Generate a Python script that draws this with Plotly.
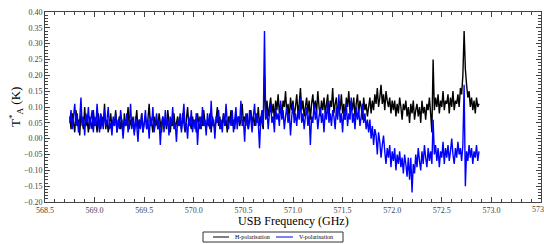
import plotly.graph_objects as go

# Channel grid of the spectrum (GHz)
freq_start = 568.75
freq_step = 0.0125

h_pol = [
    0.07, 0.03, 0.08, 0.05, 0.02, 0.09, 0.04, 0.06, 0.01, 0.08,
    0.05, 0.03, 0.10, 0.04, 0.06, 0.02, 0.07, 0.05, 0.03, 0.09,
    0.04, 0.06, 0.02, 0.08, 0.05, 0.03, 0.07, 0.04, 0.11, 0.03,
    0.06, 0.02, 0.05, 0.08, 0.03, 0.06, 0.04, 0.09, 0.02, 0.05,
    0.07, 0.03, 0.06, 0.01, 0.08, 0.04, 0.05, 0.10, 0.03, 0.06,
    0.04, 0.07, 0.02, 0.05, 0.09, 0.03, 0.06, 0.04, 0.08, 0.02,
    0.05, 0.07, 0.03, 0.06, 0.11, 0.04, 0.05, 0.02, 0.07, 0.04,
    0.06, 0.03, 0.08, 0.05, 0.02, 0.07, 0.04, 0.06, 0.03, 0.09,
    0.05, 0.02, 0.06, 0.04, 0.08, 0.03, 0.05, 0.07, 0.04, 0.06,
    0.03, 0.08, 0.05, 0.02, 0.06, 0.10, 0.04, 0.05, 0.03, 0.07,
    0.04, 0.06, 0.02, 0.08, 0.05, 0.03, 0.07, 0.04, 0.09, 0.05,
    0.03, 0.06, 0.04, 0.08, 0.02, 0.07, 0.05, 0.03, 0.06, 0.10,
    0.04, 0.07, 0.03, 0.05, 0.08, 0.04, 0.06, 0.02, 0.07, 0.05,
    0.09, 0.04, 0.06, 0.03, 0.08, 0.05, 0.07, 0.04, 0.06, 0.11,
    0.05, 0.07, 0.04, 0.08, 0.03, 0.06, 0.09, 0.05, 0.07, 0.04,
    0.08, 0.05, 0.10, 0.04, 0.07, 0.05, 0.03,
    0.20,
    0.08, 0.12, 0.07, 0.10, 0.13, 0.08, 0.11, 0.06, 0.12, 0.09,
    0.14, 0.08, 0.11, 0.07, 0.12, 0.10, 0.15, 0.08, 0.11, 0.06,
    0.13, 0.09, 0.12, 0.07, 0.10, 0.14, 0.08, 0.11, 0.16, 0.09,
    0.12, 0.07, 0.10, 0.13, 0.08, 0.12, 0.06, 0.11, 0.14, 0.09,
    0.12, 0.08, 0.15, 0.10, 0.07, 0.12, 0.09, 0.13, 0.08, 0.11,
    0.14, 0.07, 0.12, 0.10, 0.16, 0.08, 0.11, 0.13, 0.07, 0.12,
    0.09, 0.14, 0.08, 0.11, 0.06, 0.13, 0.10, 0.15, 0.08, 0.12,
    0.09, 0.13, 0.07, 0.11, 0.14, 0.08, 0.12, 0.10, 0.06, 0.13,
    0.09, 0.11, 0.07,
    0.10, 0.13, 0.08, 0.12, 0.09, 0.14, 0.11, 0.16, 0.10, 0.13,
    0.17, 0.11, 0.14, 0.09, 0.15, 0.12, 0.10, 0.13, 0.08, 0.12,
    0.09, 0.12, 0.07, 0.11, 0.08, 0.13, 0.10, 0.06, 0.11, 0.09,
    0.12, 0.07, 0.10, 0.05, 0.11, 0.08, 0.12, 0.06, 0.09, 0.11,
    0.07, 0.10, 0.05, 0.12, 0.08, 0.10, 0.06, 0.11, 0.09, 0.13,
    0.08, 0.02,
    0.25,
    0.09, 0.13, 0.10, 0.14, 0.08, 0.12, 0.10, 0.15, 0.09, 0.12,
    0.11, 0.14, 0.08, 0.13, 0.10, 0.15, 0.09, 0.12, 0.11, 0.14,
    0.10, 0.16, 0.14, 0.20, 0.34, 0.22, 0.17, 0.13, 0.15, 0.10,
    0.13, 0.09, 0.12, 0.08, 0.13, 0.10, 0.11,
]

v_pol = [
    0.05, 0.09, 0.03, 0.07, 0.11, 0.04, 0.08, 0.02, 0.06, 0.13,
    0.04, 0.07, 0.01, 0.08, 0.05, 0.10, 0.03, 0.06, 0.09, 0.02,
    0.07, 0.04, 0.11, 0.05, 0.02, 0.08, 0.06, 0.03, 0.09, 0.04,
    0.06, 0.10, 0.03, 0.05, 0.01, 0.07, 0.04, 0.08, 0.02, 0.06,
    0.03, 0.09, 0.05, 0.00, 0.06, 0.04, 0.08, 0.02, 0.05, 0.11,
    0.03, 0.06, 0.01, 0.07, 0.04, -0.01, 0.06, 0.03, 0.08, 0.02,
    0.05, 0.09, 0.03, 0.06, 0.00, 0.07, 0.04, 0.10, 0.02, 0.05,
    0.08, 0.03, 0.06, -0.02, 0.05, 0.07, 0.02, 0.09, 0.04, 0.06,
    0.01, 0.07, 0.04, 0.10, 0.03, 0.05, -0.01, 0.06, 0.04, 0.08,
    0.02, 0.06, 0.11, 0.03, 0.05, 0.00, 0.07, 0.04, 0.09, 0.02,
    0.06, 0.03, 0.08, -0.02, 0.05, 0.07, 0.03, 0.10, 0.04, 0.06,
    0.01, 0.08, 0.05, 0.03, 0.12, 0.04, 0.06, 0.00, 0.07, 0.05,
    0.09, 0.03, 0.06, 0.02, 0.08, 0.04, 0.11, 0.05, 0.03, 0.07,
    0.04, 0.09, 0.02, 0.06, 0.10, 0.03, 0.07, 0.05, 0.12, 0.04,
    0.06, -0.01, 0.08, 0.05, 0.03, 0.09, 0.06, 0.02, 0.07, 0.11,
    0.04, 0.08, 0.05, -0.03, 0.06, 0.09, 0.04,
    0.34,
    0.06, 0.09, 0.03, 0.08, 0.11, 0.05, 0.07, 0.02, 0.10, 0.06,
    0.08, 0.04, 0.12, 0.06, 0.09, 0.03, 0.07, 0.10, 0.05, 0.08,
    0.01, 0.07, 0.11, 0.05, 0.08, 0.04, 0.09, 0.06, 0.13, 0.05,
    0.08, 0.03, 0.07, 0.10, 0.04, 0.08, -0.02, 0.07, 0.05, 0.11,
    0.06, 0.09, 0.03, 0.07, 0.10, 0.05, 0.08, 0.02, 0.09, 0.06,
    0.12, 0.05, 0.08, 0.04, 0.09, 0.07, 0.03, 0.10, 0.06, 0.14,
    0.05, 0.08, 0.02, 0.09, 0.06, 0.11, 0.04, 0.08, 0.06, 0.13,
    0.05, 0.08, 0.03, 0.10, 0.06, 0.09, 0.04, 0.07, 0.11, 0.05,
    0.08, 0.03, 0.06,
    0.02, 0.06, 0.00, 0.04, -0.02, 0.03, 0.01, -0.05, 0.02, -0.01,
    -0.06, -0.02, 0.01, -0.04, -0.08, -0.03,
    -0.06, -0.02, -0.09, -0.04, -0.07, -0.03, -0.10, -0.05, -0.08, -0.04,
    -0.09, -0.06, -0.11, -0.05, -0.08, -0.12, -0.06,
    -0.13, -0.06, -0.17, -0.08,
    -0.11, -0.05, -0.09, -0.03, -0.07, -0.10, -0.04, -0.08, -0.02, -0.06,
    -0.09, -0.03, -0.07, -0.04, -0.08,
    0.06,
    -0.05, -0.02, -0.07, -0.03, -0.09, -0.04, -0.06, -0.01, -0.08, -0.03,
    -0.06, -0.02, -0.07, -0.04, 0.00, -0.05, -0.08, -0.03, -0.06, -0.01,
    -0.05, -0.03, -0.07, -0.02, 0.17, -0.15, -0.04, -0.07, -0.02, -0.06,
    -0.03, -0.08, -0.04, -0.06, -0.02, -0.07, -0.04,
]

series_names = ["H-polarisation", "V-polarisation"]
series_colors = ["#000000", "#0000ff"]

freq_h = [freq_start + freq_step * i for i in range(len(h_pol))]
freq_v = [freq_start + freq_step * i for i in range(len(v_pol))]

FONT = "Liberation Serif"

fig = go.Figure()
fig.add_trace(go.Scatter(x=freq_h, y=h_pol, mode="lines", name=series_names[0],
                         line=dict(color=series_colors[0], width=1.4, simplify=False)))
fig.add_trace(go.Scatter(x=freq_v, y=v_pol, mode="lines", name=series_names[1],
                         line=dict(color=series_colors[1], width=1.4, simplify=False)))

axis_common = dict(
    ticks="inside", ticklen=5, tickcolor="#444", tickwidth=1,
    showline=True, linecolor="#444", linewidth=1, mirror="ticks",
    showgrid=False, zeroline=False, automargin=False,
    tickfont=dict(family=FONT, size=8, color="#444"),
)

fig.update_xaxes(
    range=[568.5, 573.5], dtick=0.5, tick0=568.5, tickformat=".1f",
    minor=dict(dtick=0.1, ticks="inside", ticklen=3, tickcolor="#444", showgrid=False),
    **axis_common,
)
fig.update_yaxes(
    range=[-0.2, 0.4], dtick=0.05, tick0=0, tickformat=".2f",
    minor=dict(dtick=0.01, ticks="inside", ticklen=3, tickcolor="#444", showgrid=False),
    **axis_common,
)

# pixel -> paper helpers (plot area: x 45..541, y 12..202)
def px(x):
    return (x - 45) / 496.0

def py(y):
    return (202 - y) / 190.0

fig.add_annotation(text="USB Frequency (GHz)", xref="paper", yref="paper",
                   x=0.5, y=py(221), xanchor="center", yanchor="middle",
                   showarrow=False, font=dict(family=FONT, size=12, color="#000"))
fig.add_annotation(text="T<sup>*</sup><sub>A</sub> (K)", xref="paper", yref="paper",
                   x=px(16), y=0.5, xanchor="center", yanchor="middle", textangle=-90,
                   showarrow=False, font=dict(family=FONT, size=13, color="#000"))
# last x tick label, which runs off the right edge in the reference
fig.add_annotation(text="573.5", xref="paper", yref="paper", x=1.0, y=py(209.5),
                   xanchor="center", yanchor="middle", showarrow=False,
                   font=dict(family=FONT, size=8, color="#444"))

# Legend box drawn by hand so it stays as compact as in the reference
fig.add_shape(type="rect", xref="paper", yref="paper",
              x0=px(203), x1=px(343), y0=py(232), y1=py(242),
              line=dict(color="#333", width=1), fillcolor="white", layer="above")
legend_line_x = [(213, 229), (276, 293)]
legend_text_x = [233, 297]
for name, color, (lx0, lx1), tx in zip(series_names, series_colors, legend_line_x, legend_text_x):
    fig.add_shape(type="line", xref="paper", yref="paper",
                  x0=px(lx0), x1=px(lx1), y0=py(237), y1=py(237),
                  line=dict(color=color, width=1), layer="above")
    fig.add_annotation(text=name, xref="paper", yref="paper", x=px(tx), y=py(237),
                       xanchor="left", yanchor="middle", showarrow=False,
                       font=dict(family=FONT, size=6, color="#000"))

fig.update_layout(
    width=544, height=244,
    margin=dict(l=45, r=3, t=12, b=42, autoexpand=False),
    paper_bgcolor="white", plot_bgcolor="white",
    showlegend=False,
)

fig.write_html("out.html", config={"displayModeBar": False},
               post_script="document.body.style.margin='0';document.body.style.padding='0';")
